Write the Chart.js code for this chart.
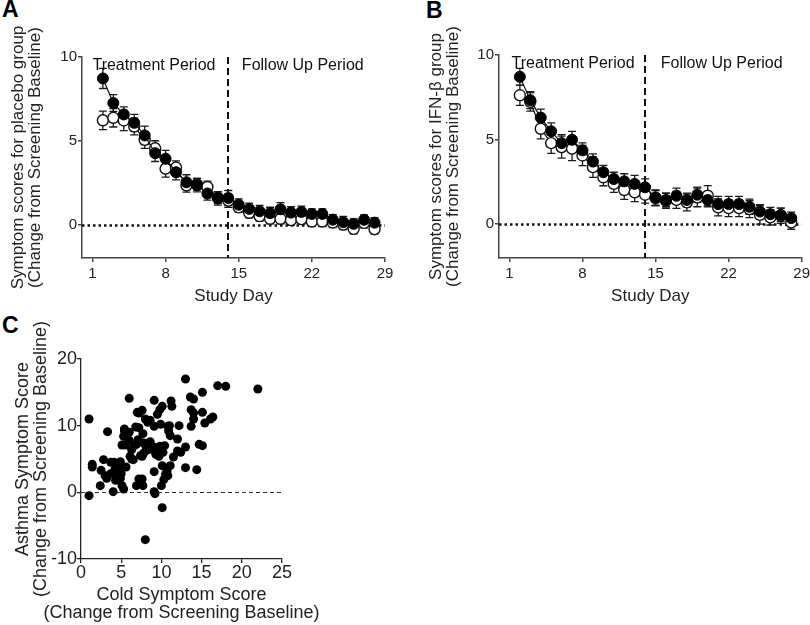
<!DOCTYPE html>
<html>
<head>
<meta charset="utf-8">
<script src="https://cdn.jsdelivr.net/npm/chart.js@4.4.1/dist/chart.umd.min.js"></script>
<style>
  body { margin: 0; background: #fff; width: 810px; height: 625px; position: relative; overflow: hidden; }
  canvas { position: absolute; }
  .tag { position: absolute; font: bold 23px "Liberation Sans", Arial, sans-serif; color: #000; line-height: 26px; }
</style>
</head>
<body>
<div class="tag" style="left:2px;top:-4px">A</div>
<div class="tag" style="left:426px;top:-3px">B</div>
<div class="tag" style="left:2px;top:312px">C</div>
<canvas id="chartA" width="400" height="310" style="left:0;top:0"></canvas>
<canvas id="chartB" width="413" height="310" style="left:400px;top:0"></canvas>
<canvas id="chartC" width="320" height="315" style="left:0;top:310px"></canvas>
<script>
var FONT = '"Liberation Sans", Arial, sans-serif';

// study days for panels A and B
var days = [2, 3, 4, 5, 6, 7, 8, 9, 10, 11, 12, 13, 14, 15, 16, 17, 18, 19, 20, 21, 22, 23, 24, 25, 26, 27, 28];
var dayTicks = [1, 8, 15, 22, 29];
var scoreTicks = [0, 5, 10];

// panel A - placebo group
var aFilled = [8.72, 7.25, 6.57, 6.07, 5.32, 4.26, 3.93, 3.12, 2.52, 2.35, 1.85, 1.56, 1.58, 1.18, 0.93, 0.79, 0.68, 0.91, 0.71, 0.75, 0.63, 0.63, 0.29, 0.14, 0.04, 0.28, 0.11];
var aFilledErr = [0.6, 0.5, 0.45, 0.5, 0.55, 0.5, 0.5, 0.45, 0.45, 0.4, 0.4, 0.4, 0.45, 0.35, 0.35, 0.35, 0.35, 0.4, 0.35, 0.35, 0.3, 0.3, 0.3, 0.35, 0.3, 0.3, 0.3];
var aOpen = [6.22, 6.37, 6.21, 5.85, 5.05, 4.55, 3.33, 3.40, 2.33, 2.40, 2.24, 1.60, 1.42, 1.02, 0.70, 0.50, 0.34, 0.34, 0.26, 0.32, 0.18, 0.18, 0.12, 0.00, -0.26, 0.10, -0.28];
var aOpenErr = [0.55, 0.55, 0.6, 0.5, 0.5, 0.45, 0.5, 0.4, 0.4, 0.35, 0.35, 0.35, 0.4, 0.3, 0.3, 0.3, 0.3, 0.3, 0.3, 0.3, 0.3, 0.3, 0.3, 0.3, 0.3, 0.3, 0.3];

// panel B - IFN-beta group
var bFilled = [8.71, 7.33, 6.30, 5.49, 4.79, 4.99, 4.36, 3.70, 3.07, 2.67, 2.53, 2.38, 2.18, 1.58, 1.43, 1.68, 1.43, 1.74, 1.43, 1.19, 1.19, 1.19, 1.03, 0.75, 0.59, 0.55, 0.36];
var bFilledErr = [0.5, 0.5, 0.5, 0.5, 0.5, 0.5, 0.45, 0.45, 0.4, 0.4, 0.45, 0.5, 0.5, 0.45, 0.4, 0.45, 0.4, 0.45, 0.4, 0.45, 0.45, 0.45, 0.45, 0.4, 0.4, 0.4, 0.35];
var bOpen = [7.62, 7.23, 5.64, 4.79, 4.55, 4.46, 4.06, 3.37, 2.77, 2.38, 2.02, 1.88, 1.74, 1.54, 1.39, 1.43, 1.29, 1.58, 1.68, 0.99, 0.95, 0.95, 0.89, 0.55, 0.40, 0.50, 0.10];
var bOpenErr = [0.6, 0.55, 0.6, 0.6, 0.65, 0.7, 0.6, 0.6, 0.5, 0.5, 0.55, 0.55, 0.5, 0.45, 0.45, 0.5, 0.5, 0.55, 0.6, 0.5, 0.5, 0.5, 0.5, 0.55, 0.45, 0.45, 0.4];

// panel C - cold vs asthma symptom score
var coldScore = [1.0, 1.0, 1.4, 1.4, 2.4, 2.8, 2.5, 3.3, 3.2, 3.7, 3.7, 4.0, 4.1, 4.2, 4.4, 4.7, 4.9, 5.0, 5.1, 4.9,
  5.1, 5.3, 4.8, 5.4, 5.4, 5.1, 5.5, 5.3, 6.0, 6.0, 6.3, 6.1, 6.5, 6.0, 7.2, 7.6, 7.2, 7.7, 7.1, 6.9,
  7.2, 7.6, 7.7, 8.0, 8.0, 8.3, 8.6, 9.1, 9.1, 7.8, 8.1, 8.6, 8.4, 7.6, 7.8, 7.4, 9.0, 9.3, 9.5, 9.7,
  9.1, 9.1, 9.2, 10.1, 9.8, 10.1, 9.5, 9.9, 10.1, 10.0, 10.3, 10.5, 10.7, 11.1, 10.8, 10.9, 11.1, 11.3, 11.2, 11.5,
  12.0, 12.2, 12.0, 12.4, 13.0, 13.0, 13.0, 13.6, 14.0, 13.7, 14.0, 13.7, 14.0, 14.4, 14.7, 15.1, 15.1, 15.1, 15.4, 16.1,
  16.4, 17.0, 18.0, 22.0, 5.8, 6.6, 6.9, 8.8, 9.3, 9.8, 9.6, 10.2, 10.4, 11.0, 6.3, 7.0, 4.5, 5.6, 10.8, 4.3, 3.0, 6.8];
var asthmaScore = [11.0, -0.5, 4.2, 3.8, 1.0, 4.9, 3.3, 9.1, 2.1, 2.8, 4.5, 0.1, 4.5, 3.4, 3.9, 4.0, 4.6, 2.8, 3.8, 2.1,
  1.0, 0.5, 3.4, 9.2, 9.5, 7.1, 7.1, 8.4, 9.0, 7.8, 6.4, 5.4, 4.9, 14.1, 11.9, 12.3, 9.7, 8.8, 7.9, 1.0,
  2.0, 2.0, 1.0, -7.1, 11.0, 10.5, 10.8, 13.8, 9.9, 7.4, 6.8, 7.6, 6.4, 5.4, 5.9, 5.5, 6.4, 5.7, 6.7, 5.4,
  3.1, 0.1, -0.2, -2.3, 12.4, 12.9, 11.7, 10.2, 4.0, 1.0, 1.9, 2.7, 3.2, 4.0, 9.9, 9.2, 8.5, 12.9, 13.7, 5.3,
  8.0, 10.0, 6.2, 6.0, 17.0, 6.8, 3.7, 14.3, 14.0, 12.4, 11.9, 9.9, 11.0, 3.4, 7.2, 7.0, 15.0, 12.0, 10.4, 11.0,
  11.3, 16.0, 15.9, 15.5, 8.9, 7.0, 7.2, 7.0, 6.3, 6.9, 5.9, 6.0, 7.0, 10.0, 5.0, 12.0, 2.5, 3.8, 2.5, 1.8, 2.5, 9.8];
var coldTicks = [0, 5, 10, 15, 20, 25];
var asthmaTicks = [-10, 0, 10, 20];

function pairs(xs, ys) {
  return xs.map(function (v, i) { return { x: v, y: ys[i] }; });
}

// reference lines, error bars and period labels, drawn under the markers
var panelExtras = {
  id: 'panelExtras',
  beforeDatasetsDraw: function (chart, args, opts) {
    var ctx = chart.ctx, area = chart.chartArea, x = chart.scales.x, y = chart.scales.y;
    ctx.save();
    (opts.lines || []).forEach(function (l) {
      ctx.beginPath();
      ctx.setLineDash(l.dash);
      ctx.lineWidth = l.width;
      ctx.strokeStyle = l.color;
      if (l.axis === 'y') {
        var py = Math.round(y.getPixelForValue(l.value)) + 0.5;
        ctx.moveTo(area.left, py); ctx.lineTo(area.right, py);
      } else {
        var px = Math.round(x.getPixelForValue(l.value));
        ctx.moveTo(px, area.top); ctx.lineTo(px, area.bottom);
      }
      ctx.stroke();
    });
    ctx.setLineDash([]);
    chart.data.datasets.forEach(function (ds) {
      if (!ds.errors) return;
      ctx.strokeStyle = '#1a1a1a';
      ctx.lineWidth = 1.3;
      ds.data.forEach(function (p, j) {
        var px = x.getPixelForValue(p.x);
        var top = y.getPixelForValue(p.y + ds.errors[j]);
        var bot = y.getPixelForValue(p.y - ds.errors[j]);
        ctx.beginPath();
        ctx.moveTo(px, top); ctx.lineTo(px, bot);
        ctx.moveTo(px - 4, top); ctx.lineTo(px + 4, top);
        ctx.moveTo(px - 4, bot); ctx.lineTo(px + 4, bot);
        ctx.stroke();
      });
    });
    ctx.fillStyle = '#111';
    ctx.font = '16px ' + FONT;
    ctx.textBaseline = 'middle';
    ctx.textAlign = 'left';
    (opts.labels || []).forEach(function (t) {
      ctx.fillText(t.text, x.getPixelForValue(t.x), y.getPixelForValue(t.y));
    });
    ctx.restore();
  },
  afterDraw: function (chart, args, opts) {
    if (!opts.xTitle) return;
    var ctx = chart.ctx, area = chart.chartArea;
    ctx.save();
    ctx.fillStyle = '#222';
    ctx.font = opts.xTitle.size + 'px ' + FONT;
    ctx.textAlign = 'center';
    ctx.textBaseline = 'middle';
    opts.xTitle.text.forEach(function (line, i) {
      ctx.fillText(line, (area.left + area.right) / 2, area.bottom + opts.xTitle.offset + i * opts.xTitle.size);
    });
    ctx.restore();
  }
};
Chart.register(panelExtras);

function seriesSets(filled, filledErr, open, openErr) {
  return [{
    data: pairs(days, filled), errors: filledErr, showLine: true,
    borderColor: '#111', borderWidth: 1.2,
    pointRadius: 5.5, pointBackgroundColor: '#000', pointBorderColor: '#000', pointBorderWidth: 1
  }, {
    data: pairs(days, open), errors: openErr, showLine: true,
    borderColor: '#111', borderWidth: 1.2,
    pointRadius: 5.5, pointBackgroundColor: '#fff', pointBorderColor: '#111', pointBorderWidth: 1.4
  }];
}

function timeOptions(pad, yWidth, yTitle, yTitlePad, extras) {
  return {
    responsive: false,
    animation: false,
    layout: { padding: pad },
    plugins: { legend: { display: false }, tooltip: { enabled: false }, panelExtras: extras },
    scales: {
      x: {
        type: 'linear', min: 0, max: 29,
        afterBuildTicks: function (s) { s.ticks = dayTicks.map(function (v) { return { value: v }; }); },
        afterFit: function (s) { s.height = 310 - 258; },
        grid: { drawOnChartArea: false, tickLength: 4, color: '#444', lineWidth: 1.5 },
        border: { color: '#444', width: 1.5 },
        ticks: { color: '#222', font: { family: FONT, size: 15 }, padding: 3, maxRotation: 0, autoSkip: false },
        title: { display: true, text: 'Study Day', color: '#222', font: { family: FONT, size: 17, lineHeight: 1 }, padding: { top: 0, bottom: 5 } }
      },
      y: {
        min: -2, max: 10,
        afterBuildTicks: function (s) { s.ticks = scoreTicks.map(function (v) { return { value: v }; }); },
        afterFit: function (s) { s.width = yWidth; },
        grid: { drawOnChartArea: false, tickLength: 4, color: '#444', lineWidth: 1.5 },
        border: { color: '#444', width: 1.5 },
        ticks: { color: '#222', font: { family: FONT, size: 15 }, padding: 1 },
        title: { display: true, text: yTitle, color: '#222', font: { family: FONT, size: 17, lineHeight: 1 }, padding: { top: yTitlePad, bottom: 0 } }
      }
    }
  };
}

var lineStyles = [
  { axis: 'y', value: 0, dash: [2.5, 3], width: 2.5, color: '#111' },
  { axis: 'x', value: 14, dash: [7, 4], width: 2, color: '#111' }
];

new Chart(document.getElementById('chartA'), {
  type: 'scatter',
  data: { datasets: seriesSets(aFilled, aFilledErr, aOpen, aOpenErr) },
  options: timeOptions({ top: 57, right: 15, bottom: 0, left: 0 }, 82,
    ['Symptom scores for placebo group', '(Change from Screening Baseline)'], 9.5,
    { lines: lineStyles, labels: [{ text: 'Treatment Period', x: 1.0, y: 9.5 }, { text: 'Follow Up Period', x: 15.3, y: 9.5 }] })
});

new Chart(document.getElementById('chartB'), {
  type: 'scatter',
  data: { datasets: seriesSets(bFilled, bFilledErr, bOpen, bOpenErr) },
  options: timeOptions({ top: 55, right: 11, bottom: 0, left: 18 }, 81,
    ['Symptom scores for IFN-\u03b2 group', '(Change from Screening Baseline)'], 10,
    { lines: lineStyles, labels: [{ text: 'Treatment Period', x: 1.2, y: 9.5 }, { text: 'Follow Up Period', x: 15.5, y: 9.5 }] })
});

new Chart(document.getElementById('chartC'), {
  type: 'scatter',
  data: {
    datasets: [{
      data: pairs(coldScore, asthmaScore),
      pointRadius: 4.5, pointBackgroundColor: '#000', pointBorderColor: '#000', pointBorderWidth: 0
    }]
  },
  options: {
    responsive: false,
    animation: false,
    layout: { padding: { top: 49, right: 38, bottom: 0, left: 0 } },
    plugins: {
      legend: { display: false }, tooltip: { enabled: false },
      panelExtras: {
        lines: [{ axis: 'y', value: 0, dash: [4, 3], width: 1, color: '#333' }],
        xTitle: { text: ['Cold Symptom Score', '(Change from Screening Baseline)'], size: 18, offset: 36 }
      }
    },
    scales: {
      x: {
        type: 'linear', min: 0, max: 25,
        afterBuildTicks: function (s) { s.ticks = coldTicks.map(function (v) { return { value: v }; }); },
        afterFit: function (s) { s.height = 66; },
        grid: { drawOnChartArea: false, tickLength: 4, color: '#222', lineWidth: 1.3 },
        border: { color: '#222', width: 1.3 },
        ticks: { color: '#222', font: { family: FONT, size: 18, lineHeight: 1 }, padding: 1, maxRotation: 0, autoSkip: false }
      },
      y: {
        min: -10, max: 20,
        afterBuildTicks: function (s) { s.ticks = asthmaTicks.map(function (v) { return { value: v }; }); },
        afterFit: function (s) { s.width = 81; },
        grid: { drawOnChartArea: false, tickLength: 4, color: '#222', lineWidth: 1.3 },
        border: { color: '#222', width: 1.3 },
        ticks: { color: '#222', font: { family: FONT, size: 18 }, padding: 0 },
        title: { display: true, text: ['Asthma Symptom Score', '(Change from Screening Baseline)'], color: '#222', font: { family: FONT, size: 18, lineHeight: 1 }, padding: { top: 14, bottom: 0 } }
      }
    }
  }
});
</script>
</body>
</html>
